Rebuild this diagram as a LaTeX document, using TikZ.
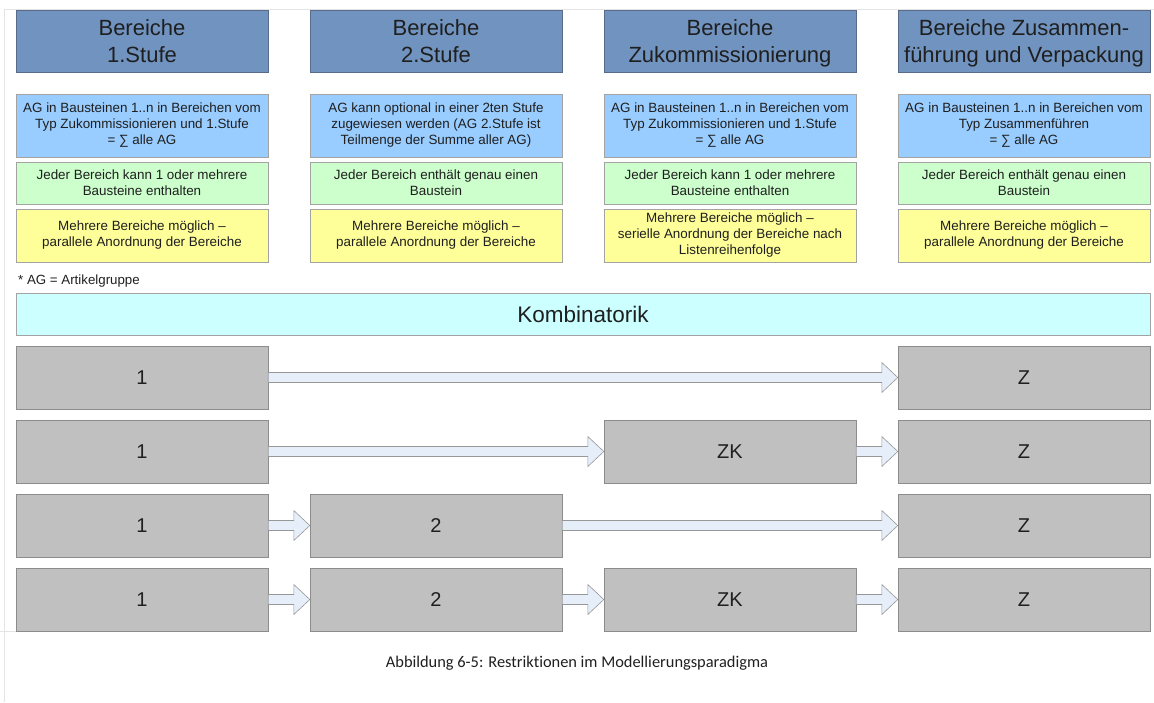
\documentclass[tikz,border=0pt]{standalone}
\usepackage{fontspec}
\setmainfont{Liberation Sans}
\newfontfamily\capfont[RawFeature={-liga;-clig;-dlig}]{Carlito}
\usetikzlibrary{calc}
\definecolor{kopfblau}{RGB}{112,147,192}
\definecolor{kopfrand}{RGB}{88,108,138}
\definecolor{hellblau}{RGB}{153,204,255}
\definecolor{hellgruen}{RGB}{204,255,204}
\definecolor{hellgelb}{RGB}{255,255,153}
\definecolor{hellcyan}{RGB}{204,255,255}
\definecolor{grau}{RGB}{192,192,192}
\definecolor{randgrau}{RGB}{140,140,140}
\definecolor{pfeilblau}{RGB}{230,238,250}
\definecolor{seitenrand}{RGB}{228,228,228}

% block arrow from one box to the next
\newcommand{\flowarrow}[2]{%
  \draw[pfeil] let \p1=(#1.east), \p2=(#2.west) in
    (\x1,\y1+5pt) -- (\x2-16pt,\y1+5pt) -- (\x2-16pt,\y1+15pt) -- (\x2,\y1)
    -- (\x2-16pt,\y1-15pt) -- (\x2-16pt,\y1-5pt) -- (\x1,\y1-5pt) -- cycle;}

\begin{document}
\begin{tikzpicture}[
    x=1pt, y=-1pt,
    every node/.style={inner sep=0pt, align=center, text=black!88},
    kopf/.style={draw=kopfrand, fill=kopfblau, minimum width=252pt,
                 minimum height=62pt, text depth=0pt,
                 font=\fontsize{22}{27}\selectfont},
    info/.style={draw=randgrau!80, minimum width=252pt,
                 font=\fontsize{13.4}{16}\selectfont},
    kasten/.style={draw=randgrau, fill=grau, minimum width=252pt,
                   minimum height=63pt, font=\fontsize{20}{24}\selectfont},
    pfeil/.style={draw=randgrau!90, fill=pfeilblau, line width=0.6pt},
  ]
  \useasboundingbox (0,0) rectangle (1154,702);
  \draw[seitenrand] (4,702) -- (4,9) -- (1154,9);
  \draw[seitenrand] (0,631) -- (16,631);

  % column headers
  \node[kopf] (k1) at (142,41)  {Bereiche\\1.Stufe};
  \node[kopf] (k2) at (436,41)  {Bereiche\\2.Stufe};
  \node[kopf] (k3) at (730,41)  {Bereiche\\Zukommissionierung};
  \node[kopf] (k4) at (1024,41) {Bereiche Zusammen-\\führung und Verpackung};

  % rules per column
  \node[info, fill=hellblau, minimum height=63pt] (a1) at (142,125.5)
    {AG in Bausteinen 1..n in Bereichen vom\\Typ Zukommissionieren und 1.Stufe\\= ∑ alle AG};
  \node[info, fill=hellblau, minimum height=63pt] (a2) at (436,125.5)
    {AG kann optional in einer 2ten Stufe\\zugewiesen werden (AG 2.Stufe ist\\Teilmenge der Summe aller AG)};
  \node[info, fill=hellblau, minimum height=63pt] (a3) at (730,125.5)
    {AG in Bausteinen 1..n in Bereichen vom\\Typ Zukommissionieren und 1.Stufe\\= ∑ alle AG};
  \node[info, fill=hellblau, minimum height=63pt] (a4) at (1024,125.5)
    {AG in Bausteinen 1..n in Bereichen vom\\Typ Zusammenführen\\= ∑ alle AG};

  \node[info, fill=hellgruen, minimum height=42pt] (b1) at (142,183)
    {Jeder Bereich kann 1 oder mehrere\\Bausteine enthalten};
  \node[info, fill=hellgruen, minimum height=42pt] (b2) at (436,183)
    {Jeder Bereich enthält genau einen\\Baustein};
  \node[info, fill=hellgruen, minimum height=42pt] (b3) at (730,183)
    {Jeder Bereich kann 1 oder mehrere\\Bausteine enthalten};
  \node[info, fill=hellgruen, minimum height=42pt] (b4) at (1024,183)
    {Jeder Bereich enthält genau einen\\Baustein};

  \node[info, fill=hellgelb, minimum height=53pt] (c1) at (142,235.5)
    {Mehrere Bereiche möglich –\\parallele Anordnung der Bereiche};
  \node[info, fill=hellgelb, minimum height=53pt] (c2) at (436,235.5)
    {Mehrere Bereiche möglich –\\parallele Anordnung der Bereiche};
  \node[info, fill=hellgelb, minimum height=53pt] (c3) at (730,235.5)
    {Mehrere Bereiche möglich –\\serielle Anordnung der Bereiche nach\\Listenreihenfolge};
  \node[info, fill=hellgelb, minimum height=53pt] (c4) at (1024,235.5)
    {Mehrere Bereiche möglich –\\parallele Anordnung der Bereiche};

  \node[anchor=base west, font=\fontsize{13.3}{16}\selectfont] (fuss) at (18,284)
    {* AG = Artikelgruppe};

  \node[draw=randgrau!80, fill=hellcyan, minimum width=1134pt, minimum height=42pt,
        font=\fontsize{22.5}{26}\selectfont] (kombi) at (583,314) {Kombinatorik};

  % combinations
  \node[kasten] (r1a) at (142,377.5)  {1};
  \node[kasten] (r1d) at (1024,377.5) {Z};
  \node[kasten] (r2a) at (142,451.5)  {1};
  \node[kasten] (r2c) at (730,451.5)  {ZK};
  \node[kasten] (r2d) at (1024,451.5) {Z};
  \node[kasten] (r3a) at (142,525.5)  {1};
  \node[kasten] (r3b) at (436,525.5)  {2};
  \node[kasten] (r3d) at (1024,525.5) {Z};
  \node[kasten] (r4a) at (142,599.5)  {1};
  \node[kasten] (r4b) at (436,599.5)  {2};
  \node[kasten] (r4c) at (730,599.5)  {ZK};
  \node[kasten] (r4d) at (1024,599.5) {Z};

  \flowarrow{r1a}{r1d}
  \flowarrow{r2a}{r2c} \flowarrow{r2c}{r2d}
  \flowarrow{r3a}{r3b} \flowarrow{r3b}{r3d}
  \flowarrow{r4a}{r4b} \flowarrow{r4b}{r4c} \flowarrow{r4c}{r4d}

  \node[font=\capfont\fontsize{16.4}{19}\selectfont] (unterschrift) at (577,663)
    {Abbildung 6-5: Restriktionen im Modellierungsparadigma};
\end{tikzpicture}
\end{document}
